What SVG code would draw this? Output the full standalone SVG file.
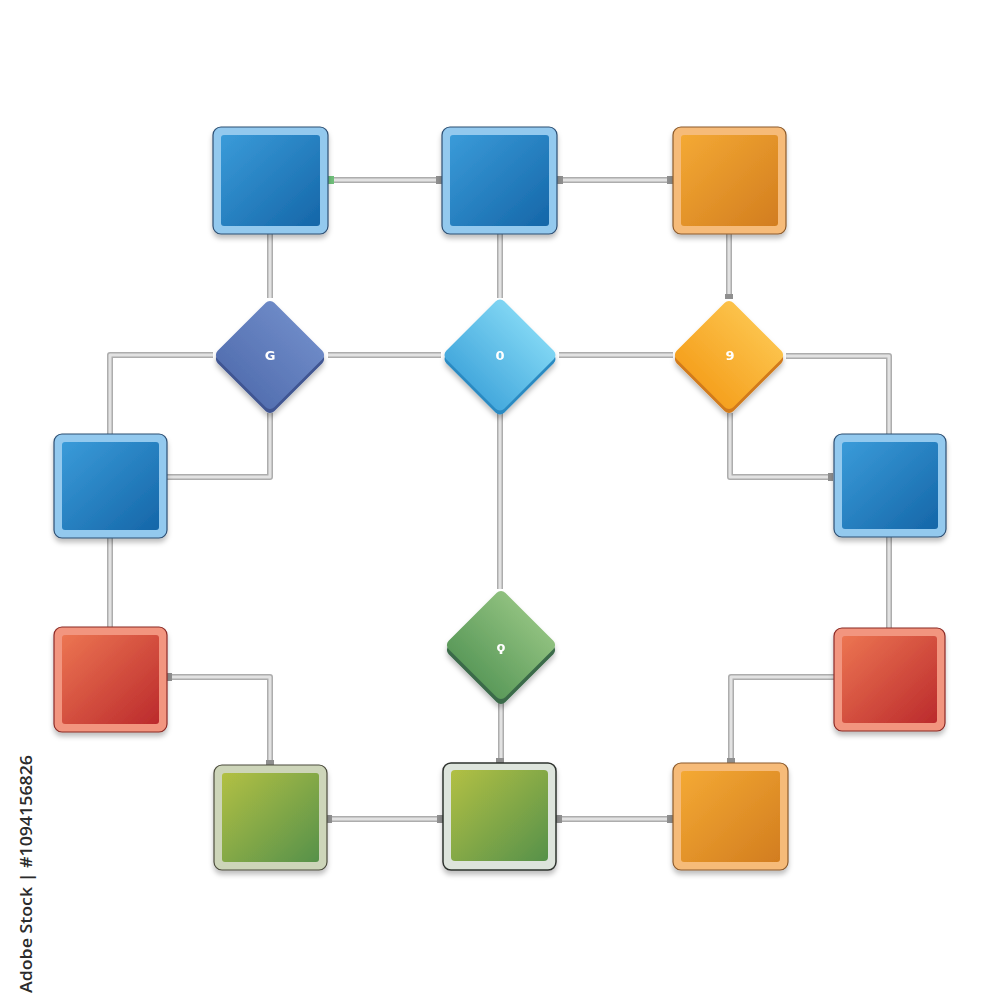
<svg xmlns="http://www.w3.org/2000/svg" xmlns:xlink="http://www.w3.org/1999/xlink" width="1000" height="1000" viewBox="0 0 1000 1000">
<defs>
<linearGradient id="gBlue" x1="0" y1="0" x2="1" y2="1"><stop offset="0" stop-color="#3a9bd9"/><stop offset="1" stop-color="#1566a8"/></linearGradient>
<linearGradient id="gOrange" x1="0" y1="0" x2="1" y2="1"><stop offset="0" stop-color="#f4a934"/><stop offset="1" stop-color="#d27d1f"/></linearGradient>
<linearGradient id="gRed" x1="0" y1="0" x2="1" y2="1"><stop offset="0" stop-color="#ec7552"/><stop offset="1" stop-color="#bb2a2c"/></linearGradient>
<linearGradient id="gGreen" x1="0" y1="0" x2="1" y2="1"><stop offset="0" stop-color="#b2c043"/><stop offset="1" stop-color="#56914a"/></linearGradient>
<linearGradient id="dBlue" x1="0" y1="0" x2="0" y2="1"><stop offset="0" stop-color="#6d89c6"/><stop offset="1" stop-color="#5470b1"/></linearGradient>
<linearGradient id="dCyan" x1="0" y1="0" x2="0" y2="1"><stop offset="0" stop-color="#7fd5f3"/><stop offset="1" stop-color="#45a9dd"/></linearGradient>
<linearGradient id="dOrange" x1="0" y1="0" x2="0" y2="1"><stop offset="0" stop-color="#fcc24a"/><stop offset="1" stop-color="#f5a11f"/></linearGradient>
<linearGradient id="dGreen" x1="0" y1="0" x2="0" y2="1"><stop offset="0" stop-color="#8fc07e"/><stop offset="1" stop-color="#5b9a5a"/></linearGradient>
<filter id="sh" x="-20%" y="-20%" width="140%" height="150%"><feDropShadow dx="0" dy="4" stdDeviation="2.5" flood-color="#000" flood-opacity="0.25"/></filter>
<path id="c1" d="M328,180 H442"/>
<path id="c2" d="M557,180 H673"/>
<path id="c3" d="M270,234 V298"/>
<path id="c4" d="M500,234 V298"/>
<path id="c5" d="M729,234 V298"/>
<path id="c6" d="M328,355 H441"/>
<path id="c7" d="M559,355 H673"/>
<path id="c8" d="M213,355 H110 V434"/>
<path id="c9" d="M270,413 V477 H167"/>
<path id="c10" d="M110,538 V627"/>
<path id="c11" d="M167,677 H270 V765"/>
<path id="c12" d="M327,819 H443"/>
<path id="c13" d="M556,819 H673"/>
<path id="c14" d="M500,413 V589"/>
<path id="c15" d="M501,703 V763"/>
<path id="c16" d="M786,356 H889 V434"/>
<path id="c17" d="M730,413 V477 H833"/>
<path id="c18" d="M889,537 V628"/>
<path id="c19" d="M731,763 V677 H834"/>
</defs>
<style>
.wo{fill:none;stroke:#adadad;stroke-width:6;stroke-linejoin:round}
.wi{fill:none;stroke:#e2e2e2;stroke-width:3;stroke-linejoin:round}
.cap{fill:#8f8f8f}
.ob{fill:#93c9ee;stroke:#2d4f73;stroke-width:1.2}
.oo{fill:#f6bb79;stroke:#8b5a2c;stroke-width:1.2}
.or{fill:#f2957f;stroke:#8a2a25;stroke-width:1.2}
.og{fill:#cdd5b9;stroke:#4b4b3c;stroke-width:1.2}
.og2{fill:#dde4dc;stroke:#2e322e;stroke-width:1.5}
.lbl{font-family:"DejaVu Sans",sans-serif;font-size:13px;font-weight:bold;fill:#ffffff;text-anchor:middle}
.side{font-family:"Open Sans","Noto Sans",sans-serif;font-size:17px;font-weight:600;fill:#2b2b2b}
</style>
<rect width="1000" height="1000" fill="#ffffff"/>
<g id="connectors">
<use xlink:href="#c1" class="wo"/><use xlink:href="#c2" class="wo"/><use xlink:href="#c3" class="wo"/><use xlink:href="#c4" class="wo"/><use xlink:href="#c5" class="wo"/><use xlink:href="#c6" class="wo"/><use xlink:href="#c7" class="wo"/><use xlink:href="#c8" class="wo"/><use xlink:href="#c9" class="wo"/><use xlink:href="#c10" class="wo"/><use xlink:href="#c11" class="wo"/><use xlink:href="#c12" class="wo"/><use xlink:href="#c13" class="wo"/><use xlink:href="#c14" class="wo"/><use xlink:href="#c15" class="wo"/><use xlink:href="#c16" class="wo"/><use xlink:href="#c17" class="wo"/><use xlink:href="#c18" class="wo"/><use xlink:href="#c19" class="wo"/>
<use xlink:href="#c1" class="wi"/><use xlink:href="#c2" class="wi"/><use xlink:href="#c3" class="wi"/><use xlink:href="#c4" class="wi"/><use xlink:href="#c5" class="wi"/><use xlink:href="#c6" class="wi"/><use xlink:href="#c7" class="wi"/><use xlink:href="#c8" class="wi"/><use xlink:href="#c9" class="wi"/><use xlink:href="#c10" class="wi"/><use xlink:href="#c11" class="wi"/><use xlink:href="#c12" class="wi"/><use xlink:href="#c13" class="wi"/><use xlink:href="#c14" class="wi"/><use xlink:href="#c15" class="wi"/><use xlink:href="#c16" class="wi"/><use xlink:href="#c17" class="wi"/><use xlink:href="#c18" class="wi"/><use xlink:href="#c19" class="wi"/>
<rect x="328" y="176" width="6" height="8" fill="#6fbf7a"/>
<rect class="cap" x="436" y="176" width="6" height="8"/>
<rect class="cap" x="557" y="176" width="6" height="8"/>
<rect class="cap" x="667" y="176" width="6" height="8"/>
<rect class="cap" x="725" y="294" width="8" height="5"/>
<rect class="cap" x="167" y="673" width="5" height="8"/>
<rect class="cap" x="327" y="815" width="5" height="8"/>
<rect class="cap" x="437" y="815" width="6" height="8"/>
<rect class="cap" x="556" y="815" width="6" height="8"/>
<rect class="cap" x="667" y="815" width="6" height="8"/>
<rect class="cap" x="828" y="473" width="5" height="8"/>
<rect class="cap" x="496" y="758" width="8" height="5"/>
<rect class="cap" x="727" y="758" width="8" height="5"/>
<rect class="cap" x="266" y="760" width="8" height="5"/>
</g>
<g id="n-top-left" filter="url(#sh)"><rect class="ob" x="213" y="127" width="115" height="107" rx="8"/><rect x="221" y="135" width="99" height="91" rx="3" fill="url(#gBlue)"/></g>
<g id="n-top-mid" filter="url(#sh)"><rect class="ob" x="442" y="127" width="115" height="107" rx="8"/><rect x="450" y="135" width="99" height="91" rx="3" fill="url(#gBlue)"/></g>
<g id="n-top-right" filter="url(#sh)"><rect class="oo" x="673" y="127" width="113" height="107" rx="8"/><rect x="681" y="135" width="97" height="91" rx="3" fill="url(#gOrange)"/></g>
<g id="n-left-blue" filter="url(#sh)"><rect class="ob" x="54" y="434" width="113" height="104" rx="8"/><rect x="62" y="442" width="97" height="88" rx="3" fill="url(#gBlue)"/></g>
<g id="n-right-blue" filter="url(#sh)"><rect class="ob" x="834" y="434" width="112" height="103" rx="8"/><rect x="842" y="442" width="96" height="87" rx="3" fill="url(#gBlue)"/></g>
<g id="n-left-red" filter="url(#sh)"><rect class="or" x="54" y="627" width="113" height="105" rx="8"/><rect x="62" y="635" width="97" height="89" rx="3" fill="url(#gRed)"/></g>
<g id="n-right-red" filter="url(#sh)"><rect class="or" x="834" y="628" width="111" height="103" rx="8"/><rect x="842" y="636" width="95" height="87" rx="3" fill="url(#gRed)"/></g>
<g id="n-bot-left" filter="url(#sh)"><rect class="og" x="214" y="765" width="113" height="105" rx="8"/><rect x="222" y="773" width="97" height="89" rx="3" fill="url(#gGreen)"/></g>
<g id="n-bot-mid" filter="url(#sh)"><rect class="og2" x="443" y="763" width="113" height="107" rx="8"/><rect x="451" y="770" width="97" height="91" rx="4" fill="url(#gGreen)"/></g>
<g id="n-bot-right" filter="url(#sh)"><rect class="oo" x="673" y="763" width="115" height="107" rx="8"/><rect x="681" y="771" width="99" height="91" rx="3" fill="url(#gOrange)"/></g>
<g id="d-g" filter="url(#sh)">
<rect x="-40" y="-40" width="80" height="80" rx="6" fill="#3f5592" transform="translate(270,359) rotate(45)"/>
<rect x="-40" y="-40" width="80" height="80" rx="6" fill="url(#dBlue)" transform="translate(270,355) rotate(45)"/>
<text class="lbl" x="270" y="360">G</text></g>
<g id="d-o" filter="url(#sh)">
<rect x="-41" y="-41" width="82" height="82" rx="6" fill="#2a8ac2" transform="translate(500,359) rotate(45)"/>
<rect x="-41" y="-41" width="82" height="82" rx="6" fill="url(#dCyan)" transform="translate(500,355) rotate(45)"/>
<text class="lbl" x="500" y="360">0</text></g>
<g id="d-q" filter="url(#sh)">
<rect x="-40" y="-40" width="80" height="80" rx="6" fill="#d17a1a" transform="translate(729,359) rotate(45)"/>
<rect x="-40" y="-40" width="80" height="80" rx="6" fill="url(#dOrange)" transform="translate(729,355) rotate(45)"/>
<text class="lbl" x="730" y="360">9</text></g>
<g id="d-green" filter="url(#sh)">
<rect x="-40" y="-40" width="80" height="80" rx="6" fill="#3b6b4a" transform="translate(501,650) rotate(45)"/>
<rect x="-40" y="-40" width="80" height="80" rx="6" fill="url(#dGreen)" transform="translate(501,645) rotate(45)"/>
<text class="lbl" x="501" y="651">ϙ</text></g>
<text class="side" transform="translate(32,993) rotate(-90)" textLength="238" lengthAdjust="spacingAndGlyphs">Adobe Stock | #1094156826</text>
</svg>
